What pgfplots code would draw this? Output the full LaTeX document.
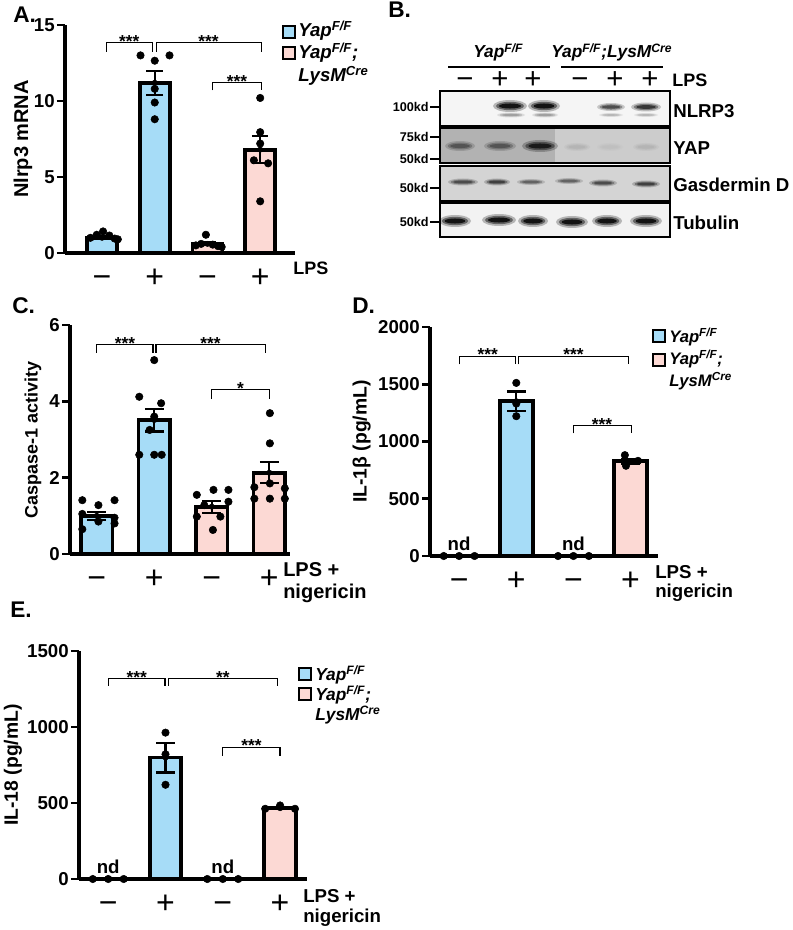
\documentclass[border=0pt]{standalone}
\usepackage{pgfplots}
\pgfplotsset{compat=1.18}
\usepackage{fontspec}
\setmainfont{Liberation Sans}
\definecolor{cblue}{RGB}{166,220,247}
\definecolor{cpink}{RGB}{252,217,212}
\newcommand{\fs}[1]{\fontsize{#1}{#1}\selectfont}
\newcommand{\ff}{\textsuperscript{F/F}}
\newcommand{\cre}{\textsuperscript{Cre}}
\newcommand{\band}[5]{%
  \fill[#5,opacity=0.25] (#1,#2) ellipse ({#3*0.75pt} and {#4*0.75pt});
  \fill[#5,opacity=0.45] (#1,#2) ellipse ({#3*0.82*0.75pt} and {#4*0.7*0.75pt});
  \fill[#5,opacity=0.8] (#1,#2) ellipse ({#3*0.65*0.75pt} and {#4*0.42*0.75pt});}
\newcommand{\legsq}[3]{\draw[fill=#3, line width=0.8pt] (#1,#2) rectangle ++(12,12);}
\tikzset{
  brk/.style={line width=0.9pt, black},
  star/.style={font=\bfseries\fs{13}, anchor=base, yshift=-3.5pt},
  ndl/.style={font=\bfseries\fs{14}, anchor=base, yshift=4pt},
}
\pgfplotsset{
  panel/.style={
    scale only axis, anchor=south west, clip=false,
    axis x line=bottom, axis y line=left,
    axis line style={-, line width=2.4pt},
    x axis line style={-}, y axis line style={-},
    ymin=0,
    xtick={0,1,2,3}, xticklabels={−,+,−,+},
    xtick style={draw=none},
    ytick style={line width=2.2pt, black},
    major tick length=6pt, tick align=outside,
    yticklabel style={font=\bfseries\fs{14}, inner sep=1.5pt},
    xticklabel style={font=\fs{24}, anchor=base, yshift=-19.5pt},
    /pgf/number format/assume math mode=true,
    /pgf/number format/1000 sep={},
    ylabel style={font=\bfseries\fs{14}, anchor=center},
  },
  bars/.style={ybar, bar shift=0pt, draw=black, line width=2.8pt, fill=#1},
  ebar/.style={black, only marks, mark=none,
     error bars/y dir=both, error bars/y explicit,
     error bars/error bar style={line width=1.6pt},
     error bars/error mark options={rotate=90, line width=1.6pt, mark size=#1}},
  dots/.style={only marks, mark=*, mark size=2.8pt, black, mark options={fill=black}},
}
\begin{document}
\begin{tikzpicture}
\path[use as bounding box] (0,0) rectangle (594pt,-697.5pt);

% ---------------- Panel A ----------------
\begin{axis}[panel, at={(48.75pt,-189.75pt)}, width=172.5pt, height=171pt,
  xmin=-0.702, xmax=3.66, ymax=15, ytick={0,5,10,15},
  ylabel={Nlrp3 mRNA},
  ylabel style={font=\bfseries\fs{15}, at={(axis description cs:-0.183,0.5)}}]
\addplot[bars=cblue, bar width=0.57] coordinates {(0,1.0) (1,11.2)};
\addplot[bars=cpink, bar width=0.57] coordinates {(2,0.6) (3,6.8)};
\addplot[ebar=6.2pt] coordinates {(0,1.0) +- (0,0.1) (1,11.2) +- (0,0.78) (2,0.6) +- (0,0.1) (3,6.8) +- (0,0.9)};
\addplot[dots] coordinates {(-0.22,1.0) (-0.1,1.2) (0.02,1.42) (0.14,1.15) (0.24,0.95) (0.3,0.9)
  (0.73,13.0) (1.0,12.65) (1.28,13.0) (1.0,10.8) (1.0,9.9) (1.0,8.8)
  (1.97,1.2) (1.78,0.5) (1.88,0.6) (2.1,0.55) (2.2,0.45) (2.27,0.4)
  (3.0,10.2) (3.0,7.95) (3.0,7.2) (2.88,6.1) (3.15,5.9) (3.0,3.4)};
\draw[brk] (axis cs:0.08,13.25) |- (axis cs:0.95,13.84) -- (axis cs:0.95,13.25);
\draw[brk] (axis cs:1.03,13.25) |- (axis cs:3.02,13.84) -- (axis cs:3.02,13.25);
\draw[brk] (axis cs:2.1,10.7) |- (axis cs:3.02,11.2) -- (axis cs:3.02,10.7);
\node[star] at (axis cs:0.515,13.84) {***};
\node[star] at (axis cs:2.02,13.84) {***};
\node[star] at (axis cs:2.56,11.2) {***};
\end{axis}

% ---------------- Panel C ----------------
\begin{axis}[panel, at={(52.5pt,-415.5pt)}, width=165pt, height=171.75pt,
  xmin=-0.464, xmax=3.36, ymax=6, ytick={0,2,4,6},
  ylabel={Caspase-1 activity},
  ylabel style={font=\bfseries\fs{13.5}, at={(axis description cs:-0.168,0.5)}}]
\addplot[bars=cblue, bar width=0.55] coordinates {(0,1.0) (1,3.51)};
\addplot[bars=cpink, bar width=0.55] coordinates {(2,1.24) (3,2.13)};
\addplot[ebar=7pt] coordinates {(0,1.0) +- (0,0.11) (1,3.51) +- (0,0.3) (2,1.24) +- (0,0.16) (3,2.13) +- (0,0.28)};
\addplot[dots] coordinates {(-0.25,1.41) (0.03,1.28) (0.31,1.41) (-0.25,1.05) (0.31,0.95) (0.03,0.85) (0.31,0.8) (-0.25,0.65)
  (1.0,5.08) (0.74,4.12) (1.12,3.95) (1.0,3.6) (0.92,3.25) (0.74,2.6) (1.0,2.6) (1.13,2.6)
  (2.03,1.68) (2.29,1.68) (1.74,1.55) (2.29,1.37) (1.87,1.28) (1.74,0.98) (2.15,0.98) (2.02,0.63)
  (3.01,3.69) (3.01,2.9) (3.01,1.85) (2.74,1.75) (3.27,1.72) (2.74,1.45) (3.01,1.45) (3.27,1.45)};
\draw[brk] (axis cs:0.0,5.27) |- (axis cs:0.98,5.49) -- (axis cs:0.98,5.27);
\draw[brk] (axis cs:1.03,5.27) |- (axis cs:2.94,5.49) -- (axis cs:2.94,5.27);
\draw[brk] (axis cs:2.0,4.06) |- (axis cs:3.0,4.3) -- (axis cs:3.0,4.06);
\node[star] at (axis cs:0.49,5.49) {***};
\node[star] at (axis cs:1.98,5.49) {***};
\node[star] at (axis cs:2.5,4.3) {*};
\end{axis}

% ---------------- Panel D ----------------
\begin{axis}[panel, at={(322.5pt,-417pt)}, width=171pt, height=171.75pt,
  xmin=-0.51, xmax=3.48, ymax=2000, ytick={0,500,1000,1500,2000},
  ylabel={IL-1β (pg/mL)},
  ylabel style={font=\bfseries\fs{14.5}, at={(axis description cs:-0.30,0.5)}}]
\addplot[bars=cblue, bar width=0.58] coordinates {(1,1352)};
\addplot[bars=cpink, bar width=0.58] coordinates {(3,828)};
\addplot[ebar=7pt] coordinates {(1,1352) +- (0,85) (3,828) +- (0,22)};
\addplot[dots] coordinates {(-0.27,0) (0,0) (0.27,0) (1.73,0) (2,0) (2.27,0)
  (1,1512) (1,1331) (1,1221) (2.9,881) (2.92,788) (3.13,831)};
\draw[brk] (axis cs:0.01,1674) |- (axis cs:0.98,1744) -- (axis cs:0.98,1674);
\draw[brk] (axis cs:1.04,1674) |- (axis cs:2.97,1744) -- (axis cs:2.97,1674);
\draw[brk] (axis cs:2.0,1070) |- (axis cs:3.01,1137) -- (axis cs:3.01,1070);
\node[star] at (axis cs:0.5,1744) {***};
\node[star] at (axis cs:2.0,1744) {***};
\node[star] at (axis cs:2.5,1137) {***};
\node[ndl] at (axis cs:0,0) {nd};
\node[ndl] at (axis cs:2,0) {nd};
\end{axis}

% ---------------- Panel E ----------------
\begin{axis}[panel, at={(59.25pt,-659.25pt)}, width=171pt, height=171pt,
  xmin=-0.51, xmax=3.47, ymax=1500, ytick={0,500,1000,1500},
  ylabel={IL-18 (pg/mL)},
  ylabel style={font=\bfseries\fs{14.5}, at={(axis description cs:-0.29,0.5)}}]
\addplot[bars=cblue, bar width=0.55] coordinates {(1,799)};
\addplot[bars=cpink, bar width=0.55] coordinates {(3,466)};
\addplot[ebar=7pt] coordinates {(1,799) +- (0,98) (3,466) +- (0,8)};
\addplot[dots] coordinates {(-0.27,0) (0,0) (0.27,0) (1.73,0) (2,0) (2.27,0)
  (1,963) (1,821) (1,620) (2.74,462) (3.0,484) (3.26,462)};
\draw[brk] (axis cs:0.0,1270) |- (axis cs:0.99,1320) -- (axis cs:0.99,1270);
\draw[brk] (axis cs:1.05,1270) |- (axis cs:2.95,1320) -- (axis cs:2.95,1270);
\draw[brk] (axis cs:2.0,812) |- (axis cs:3.0,867) -- (axis cs:3.0,812);
\node[star] at (axis cs:0.5,1320) {***};
\node[star] at (axis cs:2.0,1320) {**};
\node[star] at (axis cs:2.5,867) {***};
\node[ndl] at (axis cs:0,0) {nd};
\node[ndl] at (axis cs:2,0) {nd};
\end{axis}

% ---------------- free text, legends, blot ----------------
\begin{scope}[x=0.75pt, y=-0.75pt]
% panel letters
\node[anchor=base west, inner sep=0, font=\bfseries\fs{17}] at (13,23) {A.};
\node[anchor=base west, inner sep=0, font=\bfseries\fs{17}] at (388,18) {B.};
\node[anchor=base west, inner sep=0, font=\bfseries\fs{17}] at (12,313) {C.};
\node[anchor=base west, inner sep=0, font=\bfseries\fs{17}] at (352,313) {D.};
\node[anchor=base west, inner sep=0, font=\bfseries\fs{17}] at (10,617) {E.};
% x-axis captions
\node[anchor=base west, inner sep=0, font=\bfseries\fs{13.5}] at (293,275) {LPS};
\node[anchor=base west, inner sep=0, font=\bfseries\fs{15}] at (283,576) {LPS +};
\node[anchor=base west, inner sep=0, font=\bfseries\fs{15}] at (283,598) {nigericin};
\node[anchor=base west, inner sep=0, font=\bfseries\fs{14}] at (655,578) {LPS +};
\node[anchor=base west, inner sep=0, font=\bfseries\fs{14}] at (655,597) {nigericin};
\node[anchor=base west, inner sep=0, font=\bfseries\fs{14}] at (303,902) {LPS +};
\node[anchor=base west, inner sep=0, font=\bfseries\fs{14}] at (303,922) {nigericin};
% legends
\legsq{283}{26}{cblue}\legsq{283}{47}{cpink}
\node[anchor=base west, inner sep=0, font=\bfseries\itshape\fs{14}] at (298,37) {Yap\ff};
\node[anchor=base west, inner sep=0, font=\bfseries\itshape\fs{14}] at (298,59) {Yap\ff;};
\node[anchor=base west, inner sep=0, font=\bfseries\itshape\fs{14}] at (298,82) {LysM\cre};
\legsq{653}{330}{cblue}\legsq{653}{354}{cpink}
\node[anchor=base west, inner sep=0, font=\bfseries\itshape\fs{12.5}] at (669,342) {Yap\ff};
\node[anchor=base west, inner sep=0, font=\bfseries\itshape\fs{12.5}] at (669,364) {Yap\ff;};
\node[anchor=base west, inner sep=0, font=\bfseries\itshape\fs{12.5}] at (669,386) {LysM\cre};
\legsq{299}{668}{cblue}\legsq{299}{688}{cpink}
\node[anchor=base west, inner sep=0, font=\bfseries\itshape\fs{13}] at (315,680) {Yap\ff};
\node[anchor=base west, inner sep=0, font=\bfseries\itshape\fs{13}] at (315,700) {Yap\ff;};
\node[anchor=base west, inner sep=0, font=\bfseries\itshape\fs{13}] at (315,720) {LysM\cre};
% ---- blot ----
\fill[black!4] (440,91) rectangle (670,126);
\fill[black!30] (440,128) rectangle (555,163);
\fill[black!20] (555,128) rectangle (670,163);
\fill[black!17] (440,166) rectangle (670,201);
\fill[black!5] (440,203) rectangle (670,237);
% NLRP3
\band{510}{106}{17}{6}{black}\band{544}{106}{16}{6}{black}
\band{611}{107}{14}{4}{black!75}\band{646}{107}{15}{4.5}{black!85}
\band{511}{115}{14}{2.5}{black!40}\band{545}{115}{13}{2.5}{black!40}
\band{611}{115}{12}{2}{black!30}\band{646}{115}{12}{2}{black!30}
% YAP
\band{460}{146}{15}{5}{black!70}\band{500}{146}{16}{5}{black!70}\band{540}{146}{18}{6}{black!95}
\band{577}{147}{13}{4}{black!30}\band{610}{147}{13}{4}{black!25}\band{646}{147}{13}{4}{black!30}
% GSDMD
\band{463}{182}{15}{3.5}{black!75}\band{497}{182}{13}{3.5}{black!80}\band{531}{182}{14}{3}{black!65}
\band{569}{181}{14}{3}{black!65}\band{603}{183}{14}{3.5}{black!75}\band{646}{184}{14}{3.5}{black!80}
% Tubulin
\band{455}{221}{16}{6}{black}\band{499}{220}{17}{6}{black}\band{533}{221}{15}{6}{black}
\band{572}{222}{16}{6}{black}\band{607}{221}{15}{6}{black}\band{646}{221}{16}{6}{black}
\foreach \ya/\yb in {91/126,128/163,166/201,203/237}
  \draw[line width=1.1pt] (440,\ya) rectangle (670,\yb);
% MW markers
\foreach \yy/\tt in {107/100kd,137/75kd,159/50kd,188/50kd,222/50kd}{
  \node[anchor=east, inner sep=0, font=\bfseries\fs{9.5}] at (429,\yy) {\tt};
  \draw[line width=1.4pt] (430,\yy) -- (439,\yy);}
% right labels
\node[anchor=base west, inner sep=0, font=\bfseries\fs{14}] at (673,118) {NLRP3};
\node[anchor=base west, inner sep=0, font=\bfseries\fs{14}] at (673,155) {YAP};
\node[anchor=base west, inner sep=0, font=\bfseries\fs{14}] at (673,192) {Gasdermin D};
\node[anchor=base west, inner sep=0, font=\bfseries\fs{14}] at (673,230) {Tubulin};
% header
\node[anchor=base west, inner sep=0, font=\bfseries\itshape\fs{13}] at (473,58) {Yap\ff};
\node[anchor=base west, inner sep=0, font=\bfseries\itshape\fs{13}] at (551,58) {Yap\ff;LysM\cre};
\draw[line width=1.1pt] (448,67) -- (550,67);
\draw[line width=1.1pt] (561,67) -- (663,67);
\foreach \xx/\ss in {465/−,500/+,533/+,580/−,615/+,650/+}
  \node[anchor=base, inner sep=0, font=\fs{22}] at (\xx,89) {\ss};
\node[anchor=base west, inner sep=0, font=\bfseries\fs{13.5}] at (672,87) {LPS};
\end{scope}
\end{tikzpicture}
\end{document}
